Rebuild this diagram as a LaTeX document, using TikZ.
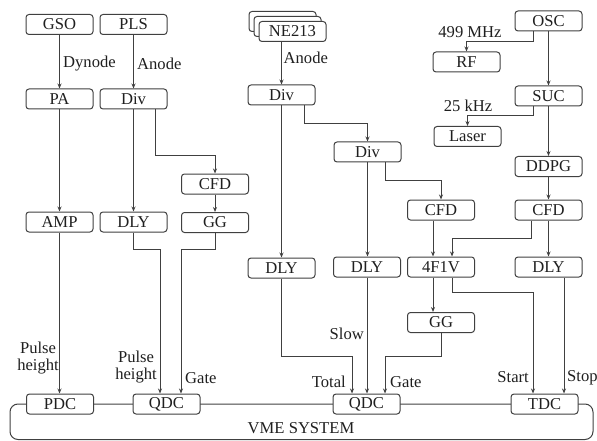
\documentclass[tikz,border=0pt]{standalone}
\usepackage{fontspec}
\setmainfont{Liberation Serif}
\usetikzlibrary{arrows.meta}
\begin{document}
\begin{tikzpicture}[x=1pt,y=-1pt,
  every node/.style={font=\fontsize{16.6}{18}\selectfont, text=black!88},
  box/.style={draw=black!75, line width=1pt, rounded corners=3pt, fill=white,
    minimum width=67pt, minimum height=20pt, inner sep=0pt},
  lbl/.style={inner sep=1pt},
  arr/.style={draw=black!75, line width=1pt, -{Stealth[length=5pt,width=4pt]}},
  ln/.style={draw=black!75, line width=1pt}]
\useasboundingbox (0,0) rectangle (597,441);
% VME system frame
\draw[ln, rounded corners=8pt] (10,404) rectangle (593,439.5);
\node at (301,428) {VME SYSTEM};
% left part
\node[box] (gso) at (59.5,24.5) {GSO};
\node[box] (pls) at (133.5,24.5) {PLS};
\node[box] (pa) at (59.5,99) {PA};
\node[box] (div1) at (133.5,99) {Div};
\node[box] (cfd1) at (215,184) {CFD};
\node[box] (gg1) at (215,222.5) {GG};
\node[box] (amp) at (59.5,222) {AMP};
\node[box] (dly1) at (133.5,222) {DLY};
% middle
\node[box] (ne213c) at (282.5,21.5) {};
\node[box] (ne213b) at (287.5,26.5) {};
\node[box] (ne213) at (292.5,31.5) {NE213};
\node[box] (div2) at (281.5,95) {Div};
\node[box] (div3) at (367.5,152) {Div};
\node[box] (cfd2) at (441,210) {CFD};
\node[box] (dly2) at (281.5,268) {DLY};
\node[box] (dly3) at (367,267) {DLY};
\node[box] (f4) at (441,267) {4F1V};
\node[box] (gg2) at (441,322.5) {GG};
% right
\node[box] (osc) at (548.5,21) {OSC};
\node[box] (rf) at (466.5,62) {RF};
\node[box] (suc) at (548.5,96) {SUC};
\node[box] (laser) at (467.5,136.5) {Laser};
\node[box] (ddpg) at (548.5,166.5) {DDPG};
\node[box] (cfd3) at (548.5,210) {CFD};
\node[box] (dly4) at (548.5,267) {DLY};
% VME modules
\node[box] (pdc) at (60,404) {PDC};
\node[box] (qdc1) at (166.5,404) {QDC};
\node[box] (qdc2) at (366.5,404) {QDC};
\node[box] (tdc) at (544.5,404) {TDC};

% connectors left
\draw[arr] (gso) -- (pa);
\draw[arr] (pls) -- (div1);
\draw[arr] (pa) -- (amp);
\draw[arr] (div1) -- (dly1);
\draw[arr] ([xshift=21.5pt]div1.south) -- ++(0,46) -| (cfd1.north);
\draw[arr] (cfd1) -- (gg1);
\draw[arr] (amp.south) -- (amp.south |- pdc.north);
\draw[arr] (dly1.south) -- ++(0,17) -| ([xshift=-6.5pt]qdc1.north);
\draw[arr] (gg1.south) -- ++(0,16.5) -| ([xshift=14.5pt]qdc1.north);
\node[lbl, anchor=west] at (62,64) {Dynode};
\node[lbl, anchor=west] at (136,64) {Anode};
\node[lbl, anchor=east, align=center] at (60,358) {Pulse\\[-1pt]height};
\node[lbl, anchor=east, align=center] at (158,367) {Pulse\\[-1pt]height};
\node[lbl, anchor=west] at (184,378) {Gate};

% connectors middle
\draw[arr] (ne213.south -| div2.north) -- (div2.north);
\node[lbl, anchor=west] at (282.5,58) {Anode};
\draw[arr] (div2) -- (dly2);
\draw[arr] ([xshift=22.5pt]div2.south) -- ++(0,18) -| (div3.north);
\draw[arr] (div3.south) -- (div3.south |- dly3.north);
\draw[arr] ([xshift=17.5pt]div3.south) -- ++(0,18) -| (cfd2.north);
\draw[arr] ([xshift=-8pt]cfd2.south) -- ([xshift=-8pt]f4.north);
\draw[arr] ([xshift=-17pt]cfd3.south) -- ++(0,18) -| ([xshift=11pt]f4.north);
\draw[arr] ([xshift=-8pt]f4.south) -- ([xshift=-8pt]gg2.north);
\draw[arr] (dly2.south) -- ++(0,78) -| ([xshift=-14.5pt]qdc2.north);
\draw[arr] (dly3.south) -- (dly3.south |- qdc2.north);
\draw[arr] (gg2.south) -- ++(0,23.5) -| ([xshift=18.5pt]qdc2.north);
\draw[arr] ([xshift=11pt]f4.south) -- ++(0,15) -| ([xshift=-11.5pt]tdc.north);
\draw[arr] ([xshift=15.5pt]dly4.south) -- ([xshift=15.5pt]dly4.south |- tdc.north);
\node[lbl, anchor=east] at (347,382) {Total};
\node[lbl, anchor=east] at (365,334) {Slow};
\node[lbl, anchor=west] at (389,382) {Gate};
\node[lbl, anchor=east] at (530,377) {Start};
\node[lbl, anchor=west] at (566,378) {Stop};

% connectors right
\draw[arr] ([xshift=-15.5pt]osc.south) -- ++(0,10) -| (rf.north);
\draw[arr] (osc) -- (suc);
\draw[arr] ([xshift=-15.5pt]suc.south) -- ++(0,9) -| (laser.north);
\draw[arr] (suc) -- (ddpg);
\draw[arr] (ddpg) -- (cfd3);
\draw[arr] (cfd3) -- (dly4);
\node[lbl] at (470,32) {499 MHz};
\node[lbl] at (468,106) {25 kHz};
\end{tikzpicture}
\end{document}
